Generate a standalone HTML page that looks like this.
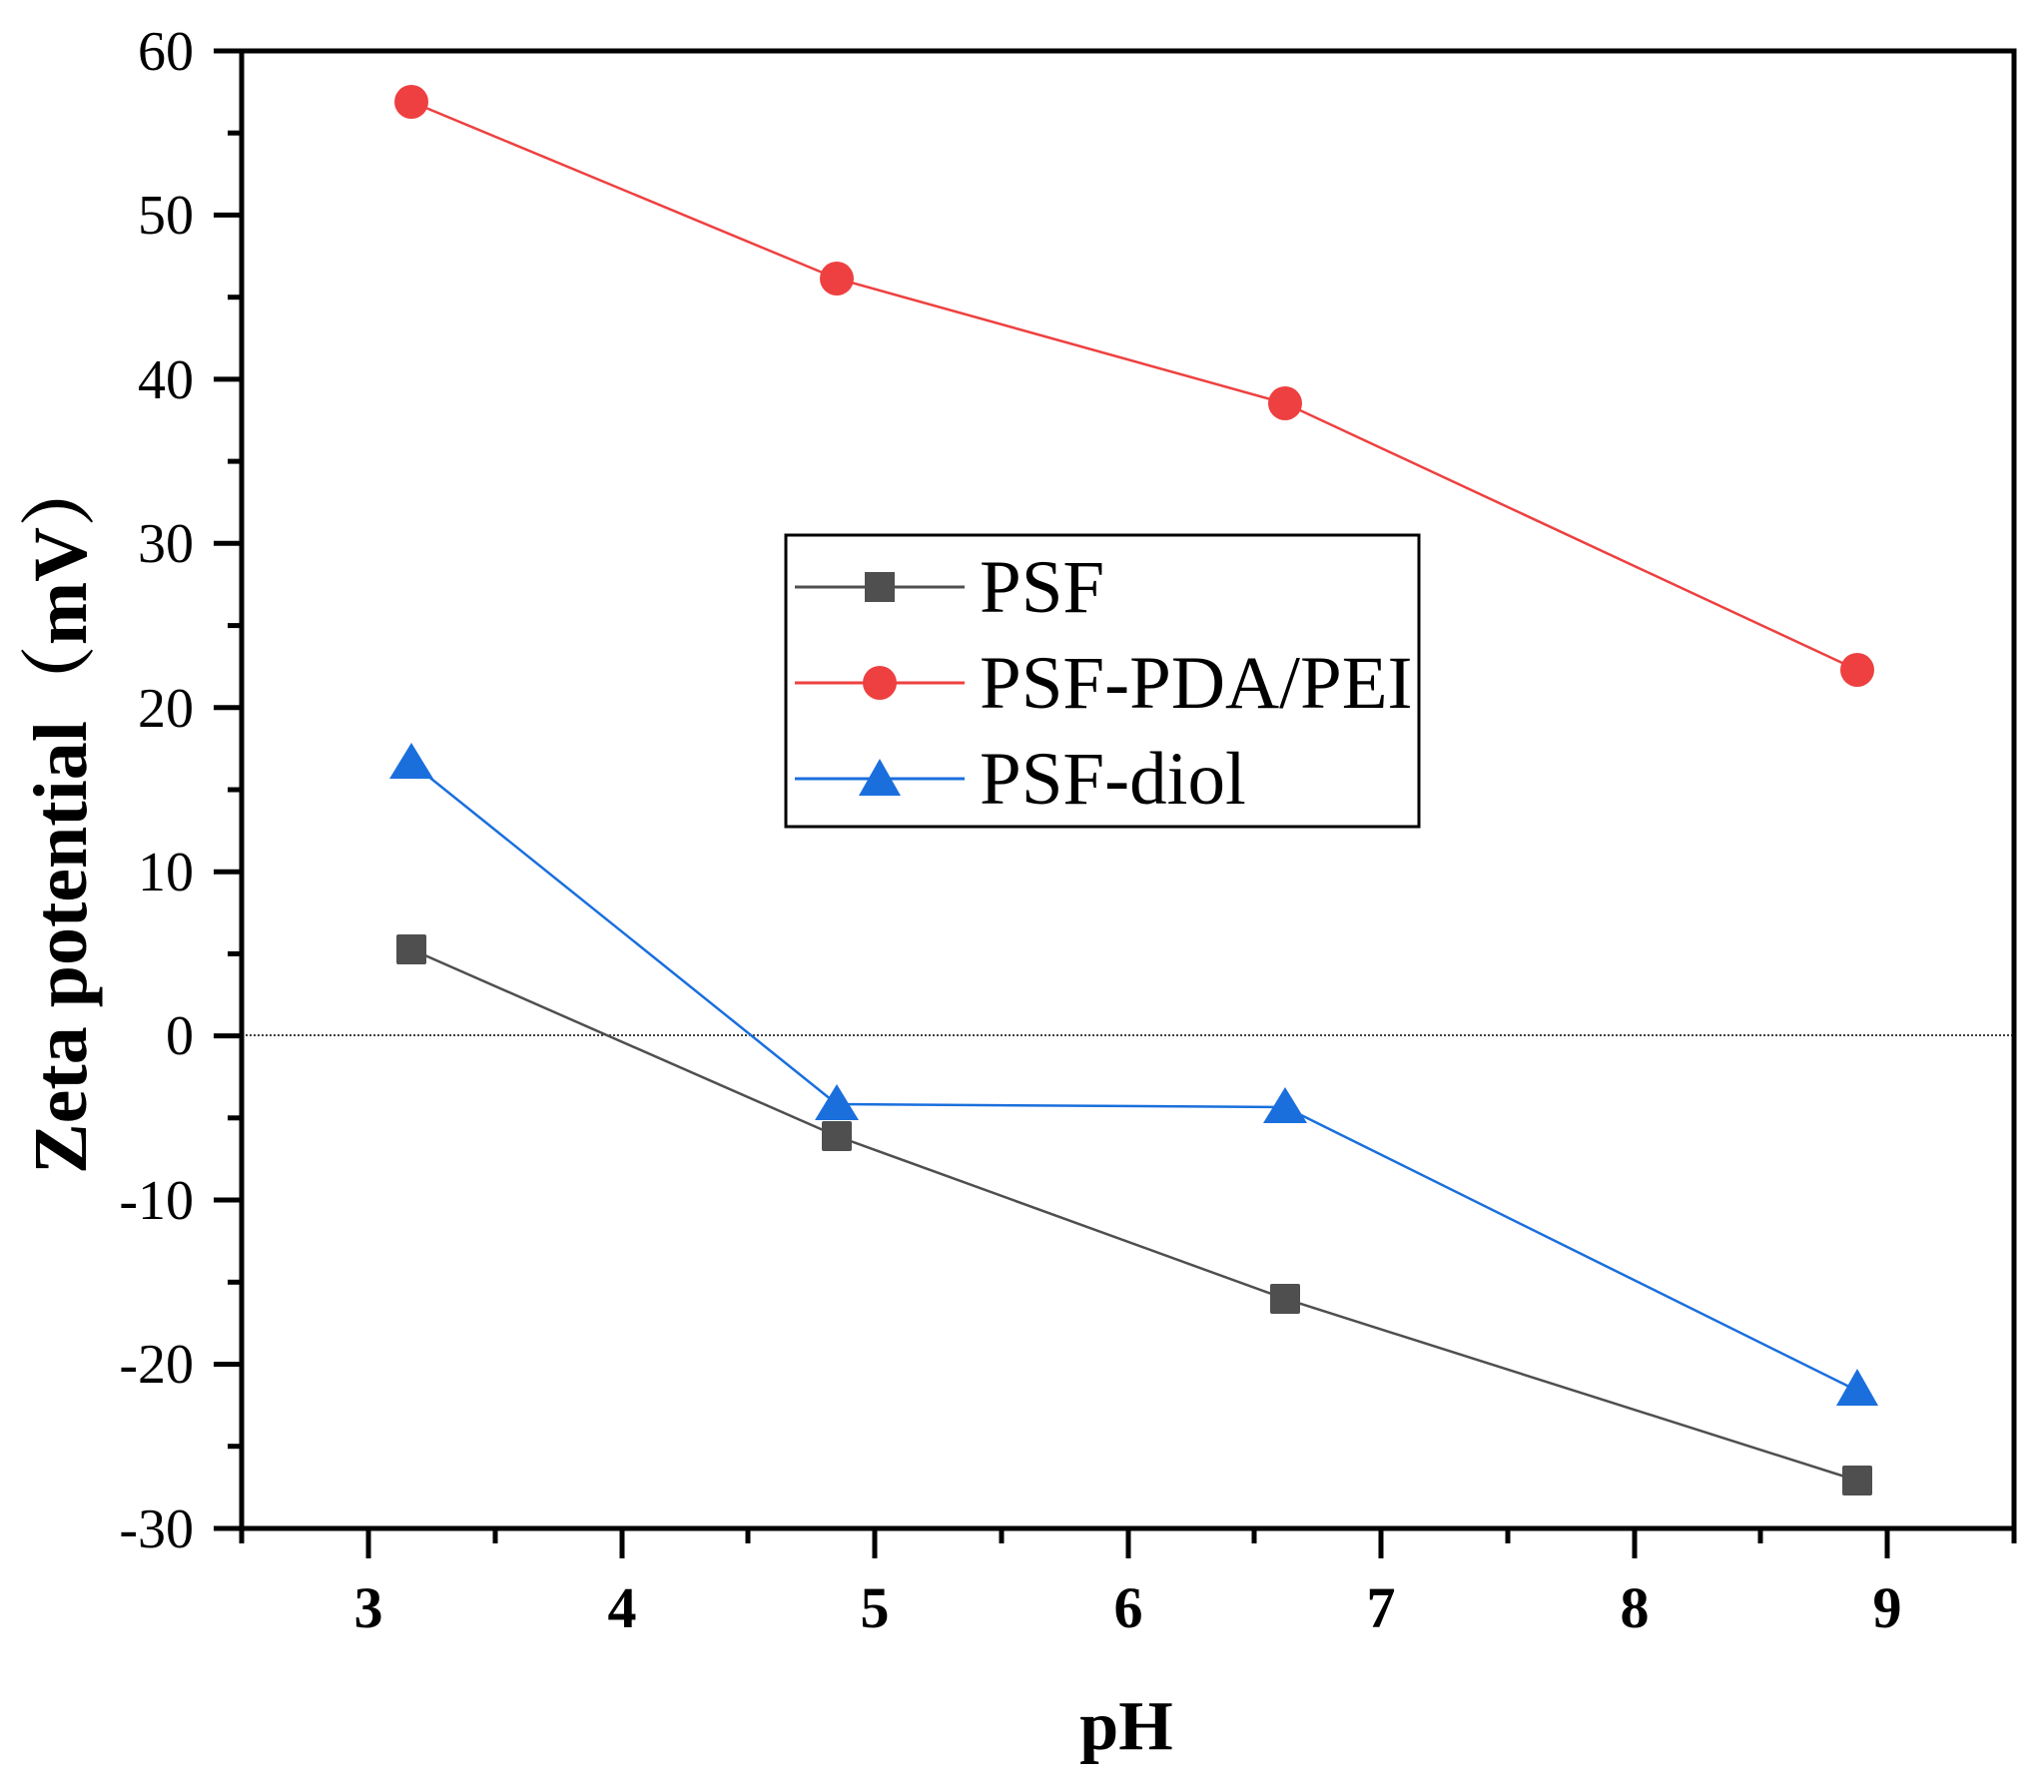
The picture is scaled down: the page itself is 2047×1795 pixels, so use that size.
<!DOCTYPE html>
<html><head><meta charset="utf-8"><style>html,body{margin:0;padding:0;background:#fff}
svg text{font-family:"Liberation Serif","Noto Serif CJK SC",serif}</style></head>
<body>
<svg width="2047" height="1790" xmlns="http://www.w3.org/2000/svg">
<rect width="2047" height="1790" fill="#fff"/>
<line x1="242" y1="1037" x2="2017" y2="1037" stroke="#000" stroke-width="1.5" stroke-dasharray="2,2"/>
<g stroke="#000" stroke-width="5">
<line x1="214" y1="51" x2="242" y2="51"/><line x1="214" y1="215.4" x2="242" y2="215.4"/><line x1="214" y1="379.9" x2="242" y2="379.9"/><line x1="214" y1="544.3" x2="242" y2="544.3"/><line x1="214" y1="708.8" x2="242" y2="708.8"/><line x1="214" y1="873.2" x2="242" y2="873.2"/><line x1="214" y1="1037.6" x2="242" y2="1037.6"/><line x1="214" y1="1202" x2="242" y2="1202"/><line x1="214" y1="1366.5" x2="242" y2="1366.5"/><line x1="214" y1="1531" x2="242" y2="1531"/>
<line x1="228" y1="133.2" x2="242" y2="133.2"/><line x1="228" y1="297.7" x2="242" y2="297.7"/><line x1="228" y1="462.1" x2="242" y2="462.1"/><line x1="228" y1="626.6" x2="242" y2="626.6"/><line x1="228" y1="791" x2="242" y2="791"/><line x1="228" y1="955.4" x2="242" y2="955.4"/><line x1="228" y1="1119.8" x2="242" y2="1119.8"/><line x1="228" y1="1284.3" x2="242" y2="1284.3"/><line x1="228" y1="1448.7" x2="242" y2="1448.7"/>
<line x1="369" y1="1531" x2="369" y2="1561"/><line x1="623" y1="1531" x2="623" y2="1561"/><line x1="876" y1="1531" x2="876" y2="1561"/><line x1="1130" y1="1531" x2="1130" y2="1561"/><line x1="1383" y1="1531" x2="1383" y2="1561"/><line x1="1637" y1="1531" x2="1637" y2="1561"/><line x1="1890" y1="1531" x2="1890" y2="1561"/>
<line x1="242" y1="1531" x2="242" y2="1546"/><line x1="496" y1="1531" x2="496" y2="1546"/><line x1="749" y1="1531" x2="749" y2="1546"/><line x1="1003" y1="1531" x2="1003" y2="1546"/><line x1="1256" y1="1531" x2="1256" y2="1546"/><line x1="1510" y1="1531" x2="1510" y2="1546"/><line x1="1763" y1="1531" x2="1763" y2="1546"/><line x1="2017" y1="1531" x2="2017" y2="1546"/>
</g>
<rect x="242" y="51" width="1775" height="1480" fill="none" stroke="#000" stroke-width="5"/>
<g font-size="56" text-anchor="end">
<text x="194" y="70">60</text><text x="194" y="234">50</text><text x="194" y="399">40</text><text x="194" y="563">30</text><text x="194" y="728">20</text><text x="194" y="892">10</text><text x="194" y="1056">0</text><text x="194" y="1221">-10</text><text x="194" y="1385">-20</text><text x="194" y="1550">-30</text>
</g>
<g font-size="58" font-weight="bold" text-anchor="middle">
<text x="369" y="1630">3</text><text x="623" y="1630">4</text><text x="876" y="1630">5</text><text x="1130" y="1630">6</text><text x="1383" y="1630">7</text><text x="1637" y="1630">8</text><text x="1890" y="1630">9</text>
</g>
<text x="1128" y="1752" font-size="70" font-weight="bold" text-anchor="middle">pH</text>
<text transform="translate(86,814) rotate(-90)" font-size="76" font-weight="bold" text-anchor="middle">Zeta potential（mV）</text>
<polyline points="412,951 838,1138 1287,1301 1860,1483" fill="none" stroke="#4f4f4f" stroke-width="2.5"/>
<g fill="#4f4f4f">
<rect x="397" y="936" width="30" height="30" rx="2"/><rect x="823" y="1123" width="30" height="30" rx="2"/><rect x="1272" y="1286" width="30" height="30" rx="2"/><rect x="1845" y="1468" width="30" height="30" rx="2"/>
</g>
<polyline points="412,102 838,279 1287,404 1860,671" fill="none" stroke="#ee4040" stroke-width="2.5"/>
<g fill="#ee4040">
<circle cx="412" cy="102" r="17"/><circle cx="838" cy="279" r="17"/><circle cx="1287" cy="404" r="17"/><circle cx="1860" cy="671" r="17"/>
</g>
<polyline points="412,764 838,1106 1287,1109 1860,1393" fill="none" stroke="#1a6fdd" stroke-width="2.5"/>
<g fill="#1a6fdd">
<polygon points="412,744 434,780 390,780"/><polygon points="838,1086 860,1122 816,1122"/><polygon points="1287,1089 1309,1125 1265,1125"/><polygon points="1860,1371 1881,1408 1839,1408"/>
</g>
<rect x="787" y="536" width="634" height="292" fill="#fff" stroke="#000" stroke-width="3"/>
<line x1="796" y1="588" x2="966" y2="588" stroke="#4f4f4f" stroke-width="3"/>
<rect x="866" y="573" width="30" height="30" fill="#4f4f4f"/>
<line x1="796" y1="684" x2="966" y2="684" stroke="#ee4040" stroke-width="3"/>
<circle cx="881" cy="684" r="17" fill="#ee4040"/>
<line x1="796" y1="780" x2="966" y2="780" stroke="#1a6fdd" stroke-width="3"/>
<polygon points="881,760 902,797 860,797" fill="#1a6fdd"/>
<g font-size="75">
<text x="981" y="613">PSF</text><text x="981" y="709">PSF-PDA/PEI</text><text x="981" y="805">PSF-diol</text>
</g>
</svg>
</body></html>
